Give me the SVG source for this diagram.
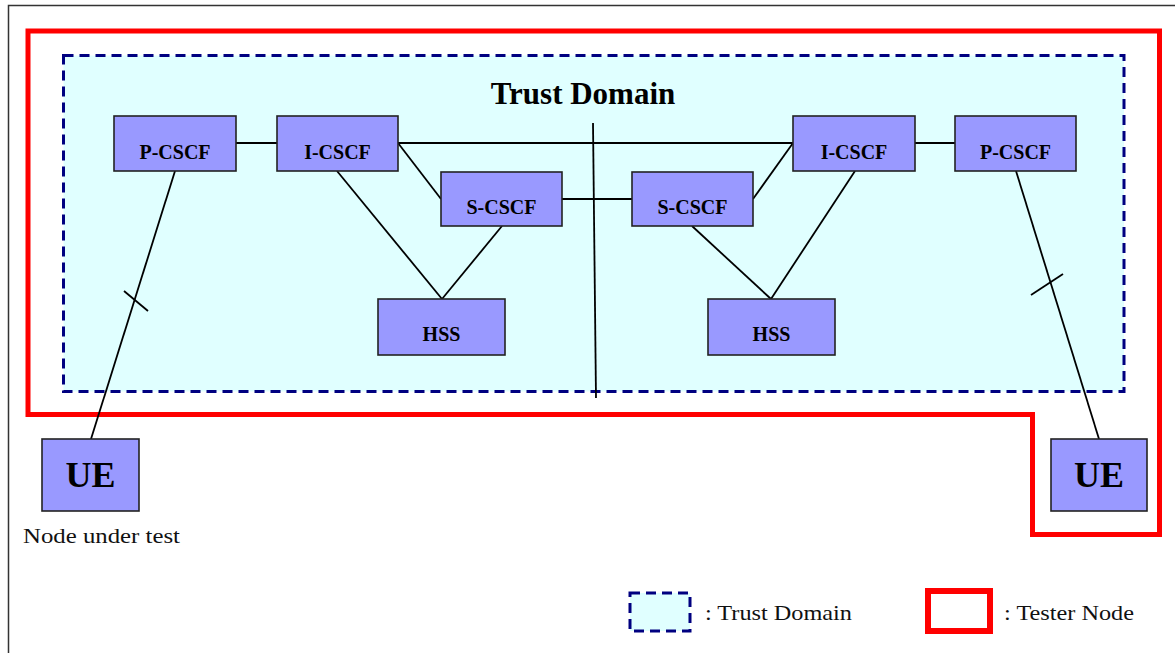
<svg xmlns="http://www.w3.org/2000/svg" width="1175" height="653" viewBox="0 0 1175 653">
<style>
.node rect{fill:#9999ff;stroke:#222;stroke-width:1.6}
.lbl{font-family:"Liberation Serif","Times New Roman",serif;font-weight:bold;font-size:20px;text-anchor:middle;fill:#000}
.ue{font-size:36px}
.conn line{stroke:#000;stroke-width:1.8}
.plain{font-family:"Liberation Serif","Times New Roman",serif;font-size:22px;fill:#111}
.trust{fill:#e0ffff;stroke:#000080;stroke-width:3;stroke-dasharray:10 6}
.tester{fill:none;stroke:#ff0000;stroke-width:5}
</style>
<rect width="1175" height="653" fill="#fff"/>
<path d="M8.5,653 V5.5 H1175" fill="none" stroke="#333" stroke-width="1.5"/>
<g id="tester-boundary"><path class="tester" d="M28,31 H1159.5 V534.5 H1032.5 V414.5 H28 Z"/></g>
<g id="trust-domain"><rect class="trust" x="63.5" y="55.5" width="1060.5" height="336"/>
<text class="lbl" x="583" y="104" style="font-size:31px">Trust Domain</text></g>
<g id="connectors" class="conn">
<line x1="236" y1="143" x2="277" y2="143"/>
<line x1="398" y1="143" x2="793" y2="143"/>
<line x1="915" y1="143" x2="955" y2="143"/>
<line x1="398" y1="143" x2="441" y2="199"/>
<line x1="562" y1="199" x2="632" y2="199"/>
<line x1="753" y1="199" x2="793" y2="143"/>
<line x1="593" y1="123" x2="596" y2="398"/>
<line x1="337" y1="171" x2="442" y2="299"/>
<line x1="502" y1="226" x2="442" y2="299"/>
<line x1="692" y1="226" x2="771" y2="299"/>
<line x1="855" y1="171" x2="771" y2="299"/>
<line x1="175" y1="171" x2="91" y2="439"/>
<line x1="124" y1="291" x2="148" y2="311"/>
<line x1="1016" y1="171" x2="1099" y2="439"/>
<line x1="1031" y1="295" x2="1063" y2="274"/>
</g>
<g id="p-cscf-left" class="node"><rect x="114" y="116" width="122" height="55"/><text class="lbl" x="175" y="159">P-CSCF</text></g>
<g id="i-cscf-left" class="node"><rect x="277" y="116" width="121" height="55"/><text class="lbl" x="337.5" y="159">I-CSCF</text></g>
<g id="s-cscf-left" class="node"><rect x="441" y="172" width="121" height="54"/><text class="lbl" x="501.5" y="214">S-CSCF</text></g>
<g id="s-cscf-right" class="node"><rect x="632" y="172" width="121" height="54"/><text class="lbl" x="692.5" y="214">S-CSCF</text></g>
<g id="i-cscf-right" class="node"><rect x="793" y="116" width="122" height="55"/><text class="lbl" x="854" y="159">I-CSCF</text></g>
<g id="p-cscf-right" class="node"><rect x="955" y="116" width="121" height="55"/><text class="lbl" x="1015.5" y="159">P-CSCF</text></g>
<g id="hss-left" class="node"><rect x="378" y="299" width="127" height="56"/><text class="lbl" x="441.5" y="341">HSS</text></g>
<g id="hss-right" class="node"><rect x="708" y="299" width="127" height="56"/><text class="lbl" x="771.5" y="341">HSS</text></g>
<g id="ue-left" class="node"><rect x="42" y="439" width="97" height="72"/><text class="lbl ue" x="90.5" y="487">UE</text></g>
<g id="ue-right" class="node"><rect x="1051" y="439" width="96" height="72"/><text class="lbl ue" x="1099" y="487">UE</text></g>
<text class="plain" x="23" y="543" textLength="157" lengthAdjust="spacingAndGlyphs">Node under test</text>
<g id="legend">
<rect class="trust" x="630" y="593" width="60" height="38"/>
<text class="plain" x="705" y="620" textLength="147" lengthAdjust="spacingAndGlyphs">: Trust Domain</text>
<rect x="928" y="591" width="62" height="40" fill="none" stroke="#ff0000" stroke-width="6"/>
<text class="plain" x="1004" y="620" textLength="130" lengthAdjust="spacingAndGlyphs">: Tester Node</text>
</g>
</svg>
